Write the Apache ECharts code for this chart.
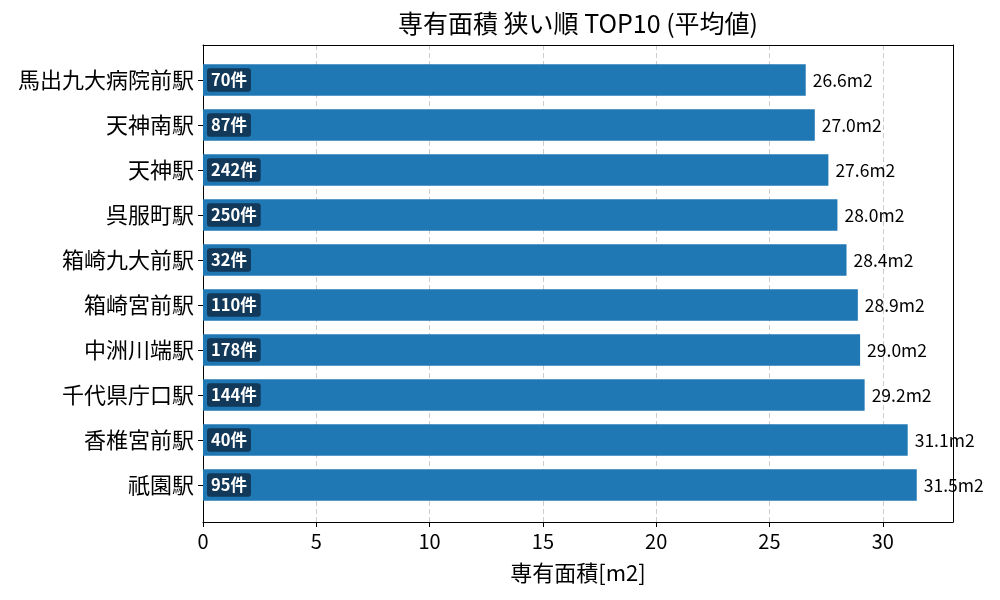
<!DOCTYPE html>
<html>
<head>
<meta charset="utf-8">
<script src="https://cdn.jsdelivr.net/npm/echarts@6/dist/echarts.min.js"></script>
<style>
  html, body { margin: 0; padding: 0; background: #fff; }
  #chart { width: 1000px; height: 600px; }
</style>
</head>
<body>
<div id="chart"></div>
<script>
const stations = ['馬出九大病院前駅', '天神南駅', '天神駅', '呉服町駅', '箱崎九大前駅', '箱崎宮前駅', '中洲川端駅', '千代県庁口駅', '香椎宮前駅', '祇園駅']
const avgArea = [26.6, 27.0, 27.6, 28.0, 28.4, 28.9, 29.0, 29.2, 31.1, 31.5]
const counts = [70, 87, 242, 250, 32, 110, 178, 144, 40, 95]
const xTicks = [0, 5, 10, 15, 20, 25, 30]

const FONT = '"Noto Sans CJK JP", "Noto Sans", sans-serif'
const xMax = 33.1

const chart = echarts.init(document.getElementById('chart'))

const frameLine = { show: true, onZero: false, lineStyle: { color: '#000', width: 1 } }

const option = {
  backgroundColor: '#fff',
  animation: false,
  title: {
    text: '専有面積 狭い順 TOP10 (平均値)',
    left: 573,
    top: 6,
    textAlign: 'center',
    textStyle: { fontFamily: FONT, fontSize: 25, fontWeight: 'normal', color: '#000' }
  },
  grid: [
    // frame + x axis
    { left: 203, right: 47, top: 45, bottom: 78 },
    // bars
    { left: 203, right: 47, top: 57.5, bottom: 92.5 }
  ],
  xAxis: [
    {
      gridIndex: 0,
      type: 'value',
      min: 0,
      max: xMax,
      interval: 5,
      name: '専有面積[m2]',
      nameLocation: 'middle',
      nameGap: 40,
      nameTextStyle: { fontFamily: FONT, fontSize: 22, color: '#000' },
      axisLine: frameLine,
      axisTick: { show: true, length: 5, lineStyle: { color: '#000' } },
      axisLabel: {
        fontFamily: FONT, fontSize: 20, color: '#000', margin: 9,
        showMaxLabel: false,
        formatter: v => (xTicks.indexOf(v) >= 0 ? String(v) : '')
      },
      splitLine: { show: true, showMaxLine: false, showMinLine: false, lineStyle: { color: '#cccccc', type: [5, 3], width: 1 } }
    },
    {
      // top edge of the frame
      gridIndex: 0,
      type: 'value',
      position: 'top',
      min: 0,
      max: xMax,
      axisLine: frameLine,
      axisTick: { show: false },
      axisLabel: { show: false },
      splitLine: { show: false }
    },
    {
      gridIndex: 1,
      type: 'value',
      min: 0,
      max: xMax,
      show: false,
      splitLine: { show: false }
    }
  ],
  yAxis: [
    {
      gridIndex: 0,
      type: 'value',
      position: 'left',
      min: 0,
      max: 1,
      axisLine: frameLine,
      axisTick: { show: false },
      axisLabel: { show: false },
      splitLine: { show: false }
    },
    {
      gridIndex: 0,
      type: 'value',
      position: 'right',
      min: 0,
      max: 1,
      axisLine: frameLine,
      axisTick: { show: false },
      axisLabel: { show: false },
      splitLine: { show: false }
    },
    {
      gridIndex: 1,
      type: 'category',
      data: stations,
      inverse: true,
      axisLine: { show: false },
      axisTick: { show: true, alignWithLabel: true, length: 5, lineStyle: { color: '#000' } },
      axisLabel: { fontFamily: FONT, fontSize: 22, color: '#000', margin: 9 },
      splitLine: { show: false }
    }
  ],
  series: [
    {
      type: 'bar',
      xAxisIndex: 2,
      yAxisIndex: 2,
      data: avgArea,
      barWidth: '70%',
      itemStyle: { color: '#1f77b4' },
      label: {
        show: true,
        position: 'right',
        distance: 7,
        fontFamily: FONT,
        fontSize: 17.5,
        color: '#000',
        formatter: p => p.value.toFixed(1) + 'm2'
      },
      z: 2
    },
    {
      // count badges, drawn on the same bars
      type: 'bar',
      xAxisIndex: 2,
      yAxisIndex: 2,
      data: avgArea,
      barWidth: '70%',
      barGap: '-100%',
      itemStyle: { color: 'transparent' },
      label: {
        show: true,
        position: 'insideLeft',
        distance: 4,
        fontFamily: FONT,
        fontSize: 16.5,
        fontWeight: 'bold',
        color: '#fff',
        backgroundColor: '#12395a',
        borderRadius: 3,
        padding: [4, 4, 3, 4],
        formatter: p => counts[p.dataIndex] + '件'
      },
      z: 3
    }
  ]
}

chart.setOption(option)
</script>
</body>
</html>
